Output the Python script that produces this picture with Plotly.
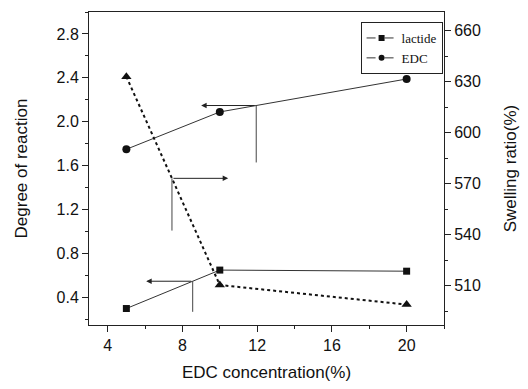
import numpy as np
import plotly.graph_objects as go

# ---- data ----
edc_conc = [5, 10, 20]
lactide = [0.30, 0.65, 0.64]
edc = [1.75, 2.09, 2.39]
swelling = [633, 510.5, 499]

x_ticks = [4, 8, 12, 16, 20]
left_ticks = [0.4, 0.8, 1.2, 1.6, 2.0, 2.4, 2.8]
right_ticks = [510, 540, 570, 600, 630, 660]

# arrows: (series, anchor x, head x, drop-to value, axis)
arrow_defs = [
    ("edc", 11.95, 9.0, 1.63, "y"),
    ("swelling", 7.44, 10.45, 542.5, "y2"),
    ("lactide", 8.55, 6.06, 0.27, "y"),
]
series_map = {"edc": edc, "lactide": lactide, "swelling": swelling}

fig = go.Figure()
fig.add_trace(go.Scatter(x=edc_conc, y=lactide, mode="lines+markers",
                         line=dict(color="#333", width=1),
                         marker=dict(symbol="square", size=7, color="#111"),
                         showlegend=False))
fig.add_trace(go.Scatter(x=edc_conc, y=edc, mode="lines+markers",
                         line=dict(color="#333", width=1),
                         marker=dict(symbol="circle", size=8, color="#111"),
                         showlegend=False))
fig.add_trace(go.Scatter(x=edc_conc, y=swelling, mode="lines+markers", yaxis="y2",
                         line=dict(color="#111", width=2, dash="dot"),
                         marker=dict(symbol="triangle-up", size=9, color="#111"),
                         showlegend=False))
# legend entries
fig.add_trace(go.Scatter(x=[None], y=[None], mode="lines+markers", name="lactide",
                         line=dict(color="#333", width=1, dash="dash"),
                         marker=dict(symbol="square", size=6, color="#111")))
fig.add_trace(go.Scatter(x=[None], y=[None], mode="lines+markers", name="EDC",
                         line=dict(color="#333", width=1, dash="dash"),
                         marker=dict(symbol="circle", size=6, color="#111")))

annotations = []
shapes = []
for name, ax_x, head_x, drop, yr in arrow_defs:
    yv = float(np.interp(ax_x, edc_conc, series_map[name]))
    annotations.append(dict(x=head_x, y=yv, ax=ax_x, ay=yv, xref="x", yref=yr,
                            axref="x", ayref=yr, text="", showarrow=True,
                            arrowhead=2, arrowsize=1.1, arrowwidth=1, arrowcolor="#222"))
    shapes.append(dict(type="line", xref="x", yref=yr, x0=ax_x, x1=ax_x, y0=yv, y1=drop,
                       line=dict(color="#444", width=1)))

font_axis = dict(family="Liberation Sans, Arial, sans-serif", size=16, color="#111")

fig.update_layout(
    width=528, height=389,
    margin=dict(l=89, r=81, t=11, b=62),
    paper_bgcolor="white", plot_bgcolor="white",
    font=font_axis,
    annotations=annotations, shapes=shapes,
    legend=dict(x=0.765, y=0.968, xanchor="left", yanchor="top",
                bordercolor="#222", borderwidth=1, bgcolor="white",
                font=dict(family="Liberation Serif, Times New Roman, serif", size=13, color="#111"),
                itemwidth=30, tracegroupgap=0),
    xaxis=dict(range=[3, 22], tickvals=x_ticks, ticks="outside", ticklen=6,
               showline=True, linecolor="#222", linewidth=1, mirror=True,
               showgrid=False, zeroline=False, tickcolor="#222",
               minor=dict(ticks="outside", ticklen=3, dtick=2, tick0=0, tickcolor="#222"),
               title=dict(text="EDC concentration(%)", font=dict(size=17), standoff=12)),
    yaxis=dict(range=[0.15, 3.0], tickvals=left_ticks, tickformat=".1f", ticks="outside",
               ticklen=6, showline=True, linecolor="#222", linewidth=1,
               showgrid=False, zeroline=False, tickcolor="#222",
               minor=dict(ticks="outside", ticklen=3, dtick=0.2, tick0=0, tickcolor="#222"),
               title=dict(text="Degree of reaction", font=dict(size=17), standoff=24)),
    yaxis2=dict(range=[487, 671], tickvals=right_ticks, overlaying="y", side="right",
                ticks="outside", ticklen=6, showline=True, linecolor="#222", linewidth=1,
                showgrid=False, zeroline=False, tickcolor="#222",
                minor=dict(ticks="outside", ticklen=3, dtick=15, tick0=0, tickcolor="#222"),
                title=dict(text="Swelling ratio(%)", font=dict(size=17), standoff=24)),
)

fig.write_html("out.html")
